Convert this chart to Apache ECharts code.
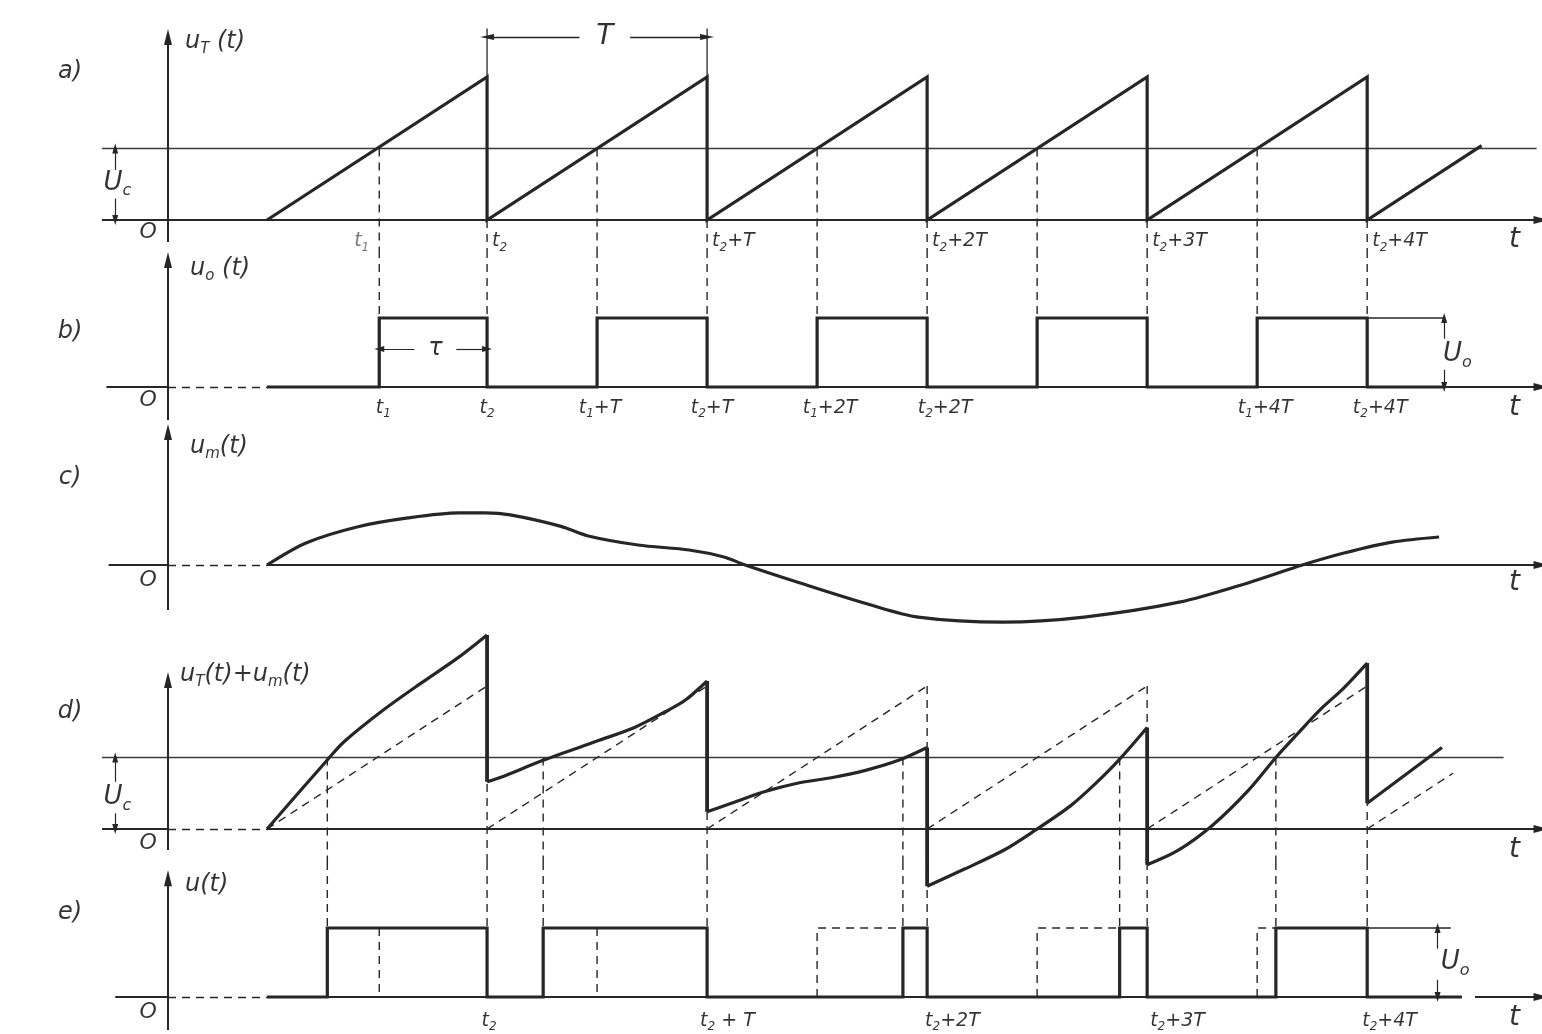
<!DOCTYPE html>
<html><head><meta charset="utf-8"><title>PWM diagram</title>
<script src="https://cdn.jsdelivr.net/npm/echarts@6.0.0/dist/echarts.min.js"></script>
<style>html,body{margin:0;padding:0;background:#fff;}#chart{width:1542px;height:1034px;}</style>
</head><body><div id="chart"></div>
<script>
// ================= DATA (time unit: T = 10) =================
const t1Times = [9.6, 19.5, 29.5, 39.5, 49.5];
const t2Times = [14.5, 24.5, 34.5, 44.5, 54.5];
const UcLevel = 0.5;
const UoLevel = 1;

// a) sawtooth u_T(t)
const sawA = [[4.5,0],[14.5,1],[14.5,0],[24.5,1],[24.5,0],[34.5,1],[34.5,0],[44.5,1],[44.5,0],[54.5,1],[54.5,0],[59.7,0.52]];

// b) u_o(t)
const pulseB = [[4.5,0],[9.6,0],[9.6,1],[14.5,1],[14.5,0],[19.5,0],[19.5,1],[24.5,1],[24.5,0],[29.5,0],[29.5,1],[34.5,1],[34.5,0],[39.5,0],[39.5,1],[44.5,1],[44.5,0],[49.5,0],[49.5,1],[54.5,1],[54.5,0],[58.0,0]];

// c) u_m(t)
const umT = [4.5, 6.27, 8.59, 10.91, 13.23, 14.41, 15.55, 17.86, 19.05, 21.36, 23.68, 25.27, 26.23, 28.73, 31.95, 34.09, 37.95, 41.64, 45.95, 49.18, 51.55, 53.45, 55.64, 57.77];
const umV = [0, 0.154, 0.266, 0.329, 0.364, 0.364, 0.35, 0.27, 0.205, 0.14, 0.105, 0.056, 0, -0.126, -0.28, -0.364, -0.40, -0.364, -0.26, -0.12, 0, 0.084, 0.16, 0.196];

// d) u_T(t)+u_m(t): solid curve pieces between the resets
const sumPieces = [
  [[4.5,0],[7.24,0.483],[8.0,0.61],[9.77,0.83],[11.5,1.02],[13.2,1.2],[14.5,1.357]],
  [[14.5,0.33],[15.1,0.36],[17.05,0.48],[19.6,0.62],[21.2,0.71],[22.6,0.82],[23.5,0.90],[24.5,1.035]],
  [[24.5,0.12],[25.6,0.18],[27.1,0.26],[28.6,0.32],[30.2,0.36],[31.7,0.41],[33.2,0.48],[34.5,0.57]],
  [[34.5,-0.40],[36.2,-0.28],[38.0,-0.147],[39.4,-0.01],[41.0,0.16],[42.1,0.31],[43.2,0.48],[44.5,0.71]],
  [[44.5,-0.25],[45.9,-0.15],[47.5,0.03],[49.1,0.27],[50.35,0.5],[51.3,0.66],[52.4,0.84],[53.4,0.98],[54.5,1.16]],
  [[54.5,0.18],[57.9,0.57]]
];
const sumResets = [[14.5,1.357,0.33],[24.5,1.035,0.12],[34.5,0.57,-0.40],[44.5,0.71,-0.25],[54.5,1.16,0.18]];
const sawD = [[[4.5,0],[14.5,1]],[[14.5,0],[24.5,1]],[[24.5,0],[34.5,1]],[[34.5,0],[44.5,1]],[[44.5,0],[54.5,1]],[[54.5,0],[58.4,0.39]]];
const dCross = [7.24, 17.05, 33.4, 43.25, 50.35];

// e) u(t)
const pulseE = [[4.5,0],[7.24,0],[7.24,1],[14.5,1],[14.5,0],[17.05,0],[17.05,1],[24.5,1],[24.5,0],[33.4,0],[33.4,1],[34.5,1],[34.5,0],[43.25,0],[43.25,1],[44.5,1],[44.5,0],[50.35,0],[50.35,1],[54.5,1],[54.5,0],[58.8,0]];
const refPulsesE = [[[9.6,1],[9.6,0]],[[19.5,1],[19.5,0]],[[29.5,0],[29.5,1],[33.4,1]],[[39.5,0],[39.5,1],[43.25,1]],[[49.5,0],[49.5,1],[50.35,1]]];

// tick labels
const ticksA = [9.6, 14.5, 24.5, 34.5, 44.5, 54.5];
const ticksALabels = ['t{s|1}','t{s|2}','t{s|2}+T','t{s|2}+2T','t{s|2}+3T','t{s|2}+4T'];
const ticksB = [9.6, 14.5, 19.5, 24.5, 29.5, 34.5, 49.5, 54.5];
const ticksBLabels = ['t{s|1}','t{s|2}','t{s|1}+T','t{s|2}+T','t{s|1}+2T','t{s|2}+2T','t{s|1}+4T','t{s|2}+4T'];
const ticksE = [14.5, 24.5, 34.5, 44.5, 54.5];
const ticksELabels = ['t{s|2}','t{s|2} + T','t{s|2}+2T','t{s|2}+3T','t{s|2}+4T'];
const axisNames = ['u{s|T} (t)','u{s|o} (t)','u{s|m}(t)','u{s|T}(t)+u{s|m}(t)','u(t)'];
const panelLetters = ['a)','b)','c)','d)','e)'];

// ================= LAYOUT / STYLE =================
const FONT = '"DejaVu Sans", "Liberation Sans", sans-serif';
const INK = '#262626';
const TXT = '#000000';
const W_SIG = 3.2, W_AX = 2, W_THIN = 1.4, DASH = [8,6];
const X_MIN = -7.5, X_MAX = 62.4;
const layout = [
  {top:20,  bottom:250,  base:220, unit:143, yAx:[-0.154,1.28], letterY:1.035, nameX:0.77, nameY:1.245, zeroY:-0.084, tY:-0.14},
  {top:250, bottom:425,  base:387, unit:69,  yAx:[-0.478,1.84], letterY:0.80,  nameX:1.0,  nameY:1.72,  zeroY:-0.19,  tY:-0.30},
  {top:425, bottom:640,  base:565, unit:143, yAx:[-0.315,0.93], letterY:0.61,  nameX:1.0,  nameY:0.825, zeroY:-0.105, tY:-0.126},
  {top:640, bottom:862,  base:829, unit:143, yAx:[-0.147,1.042],letterY:0.82,  nameX:0.55, nameY:1.077, zeroY:-0.098, tY:-0.147},
  {top:862, bottom:1034, base:997, unit:69,  yAx:[-0.478,1.72], letterY:1.22,  nameX:0.77, nameY:1.62,  zeroY:-0.22,  tY:-0.30}
];

const grids = [], xAxes = [], yAxes = [], series = [];
layout.forEach((L, i) => {
  grids.push({left:3, right:1, top:L.top, height:L.bottom - L.top});
  xAxes.push({type:'value', gridIndex:i, min:X_MIN, max:X_MAX, show:false});
  yAxes.push({type:'value', gridIndex:i, min:-(L.bottom - L.base)/L.unit, max:(L.base - L.top)/L.unit, show:false});
});
const yMin = i => yAxes[i].min, yMax = i => yAxes[i].max;

function poly(gi, pts, o = {}) {
  series.push({type:'line', xAxisIndex:gi, yAxisIndex:gi, data:pts, symbol:'none', showSymbol:false,
    smooth:o.smooth || false, clip:false, silent:true, animation:false, z:o.z || 3,
    lineStyle:{color:o.color || INK, width:o.width || W_SIG, type:o.dash ? DASH : 'solid', cap:'butt', join:'miter'}});
}
function arrows(gi, items) {
  series.push({type:'line', xAxisIndex:gi, yAxisIndex:gi, data:[], silent:true, animation:false, z:4,
    markLine:{silent:true, animation:false, symbol:['none','none'], label:{show:false}, emphasis:{disabled:true},
      data:items.map(it => [
        {coord:it.from, symbol:it.s0 || 'none', symbolSize:it.size || [8,15],
         lineStyle:{color:INK, width:it.width || W_AX, type:it.dash ? DASH : 'solid', cap:'butt'}},
        {coord:it.to, symbol:it.s1 || 'none', symbolSize:it.size || [8,15]}
      ])}});
}
function rich(size, color) {
  const s = Math.round(size * 0.62);
  return {s:{fontSize:s, fontFamily:FONT, fontStyle:'italic', color:color, verticalAlign:'bottom', lineHeight:s,
    textBorderWidth:0}};
}
function txt(gi, items) {
  series.push({type:'scatter', xAxisIndex:gi, yAxisIndex:gi, symbolSize:1, itemStyle:{color:'rgba(0,0,0,0)'},
    silent:true, animation:false, clip:false, z:6,
    data:items.map(it => {
      const size = it.size || 19;
      const color = it.color || TXT;
      return {value:[it.x, it.y], label:{show:true, position:'inside', formatter:it.text, align:it.align || 'center',
        verticalAlign:'middle', offset:[it.dx || 0, 0], fontFamily:FONT, fontStyle:'italic', fontSize:size,
        lineHeight:Math.round(size * 1.25), color:color, textBorderWidth:0, textBorderColor:'transparent',
        rich:rich(size, color)}};
    })});
}
const TRI = 'triangle';

// common decorations for every panel: y axis, letter, name, zero mark, "t"
layout.forEach((L, i) => {
  arrows(i, [{from:[0, L.yAx[0]], to:[0, L.yAx[1]], s1:TRI, width:W_AX, size:[8,16]}]);
  txt(i, [
    {x:-4.45, y:L.letterY, text:panelLetters[i], size:24},
    {x:L.nameX, y:L.nameY, text:axisNames[i], size:24, align:'left'},
    {x:-0.9, y:L.zeroY, text:'O', size:22},
    {x:61.2, y:L.tY, text:'t', size:28}
  ]);
});

// ---------- a) ----------
arrows(0, [
  {from:[-3,0], to:[X_MAX,0], s1:TRI, width:W_THIN + 0.4},
  {from:[-2.4,0.35], to:[-2.4,UcLevel], s1:TRI, width:1.2, size:[6,10]},
  {from:[-2.4,0.15], to:[-2.4,0], s1:TRI, width:1.2, size:[6,10]},
  {from:[18.7,1.28], to:[t2Times[0],1.28], s1:TRI, width:1.3, size:[6,14]},
  {from:[21.0,1.28], to:[t2Times[1],1.28], s1:TRI, width:1.3, size:[6,14]}
]);
poly(0, [[-3,UcLevel],[62.2,UcLevel]], {width:W_THIN, color:'#3a3a3a'});
poly(0, [[t2Times[0],1],[t2Times[0],1.34]], {width:1.3});
poly(0, [[t2Times[1],1],[t2Times[1],1.34]], {width:1.3});
poly(0, sawA, {});
t1Times.forEach(t => poly(0, [[t,UcLevel],[t,yMin(0)]], {dash:true, width:W_THIN}));
t2Times.forEach(t => poly(0, [[t,0],[t,yMin(0)]], {dash:true, width:W_THIN}));
txt(0, [
  {x:-2.3, y:0.26, text:'U{s|c}', size:26},
  {x:19.85, y:1.28, text:'T', size:28}
].concat(ticksA.map((t, k) => ({x:t, y:-0.15, text:ticksALabels[k], size:19,
  align:k === 0 ? 'right' : 'left', dx:k === 0 ? -10 : 5, color:k === 0 ? '#555' : TXT}))));

// ---------- b) ----------
arrows(1, [
  {from:[-2.8,0], to:[0,0], width:W_THIN + 0.4},
  {from:[0,0], to:[4.5,0], width:W_THIN, dash:true},
  {from:[4.5,0], to:[X_MAX,0], s1:TRI, width:W_THIN + 0.4},
  {from:[58.0,0.7], to:[58.0,UoLevel], s1:TRI, width:1.2, size:[6,10]},
  {from:[58.0,0.25], to:[58.0,0], s1:TRI, width:1.2, size:[6,10]},
  {from:[11.2,0.55], to:[t1Times[0],0.55], s1:TRI, width:1.2, size:[6,10]},
  {from:[13.1,0.55], to:[t2Times[0],0.55], s1:TRI, width:1.2, size:[6,10]}
]);
poly(1, [[t2Times[4],UoLevel],[58.0,UoLevel]], {width:W_THIN});
poly(1, pulseB, {});
t1Times.concat(t2Times).forEach(t => poly(1, [[t,yMax(1)],[t,UoLevel]], {dash:true, width:W_THIN}));
const dxB = [4,0,3,5,13,18,8,13];
txt(1, [
  {x:58.6, y:0.48, text:'U{s|o}', size:26},
  {x:12.15, y:0.55, text:'τ', size:24}
].concat(ticksB.map((t, k) => ({x:t, y:-0.30, text:ticksBLabels[k], size:19, dx:dxB[k]}))));

// ---------- c) ----------
arrows(2, [
  {from:[-2.7,0], to:[0,0], width:W_THIN + 0.4},
  {from:[0,0], to:[4.5,0], width:W_THIN, dash:true},
  {from:[4.5,0], to:[X_MAX,0], s1:TRI, width:W_THIN + 0.4}
]);
poly(2, umT.map((t, k) => [t, umV[k]]), {smooth:0.3});

// ---------- d) ----------
arrows(3, [
  {from:[-3,0], to:[0,0], width:W_THIN + 0.4},
  {from:[0,0], to:[4.5,0], width:W_THIN, dash:true},
  {from:[4.5,0], to:[X_MAX,0], s1:TRI, width:W_THIN + 0.4},
  {from:[-2.4,0.33], to:[-2.4,UcLevel], s1:TRI, width:1.2, size:[6,10]},
  {from:[-2.4,0.11], to:[-2.4,0], s1:TRI, width:1.2, size:[6,10]}
]);
poly(3, [[-3,UcLevel],[60.7,UcLevel]], {width:W_THIN, color:'#3a3a3a'});
sawD.forEach(p => poly(3, p, {dash:true, width:W_THIN}));
dCross.forEach(t => poly(3, [[t,UcLevel],[t,yMin(3)]], {dash:true, width:W_THIN}));
t2Times.forEach(t => poly(3, [[t,1],[t,yMin(3)]], {dash:true, width:W_THIN}));
sumPieces.forEach(p => poly(3, p, {smooth:p.length > 2 ? 0.3 : false}));
sumResets.forEach(r => poly(3, [[r[0],r[1]],[r[0],r[2]]], {width:W_SIG + 0.6}));
txt(3, [{x:-2.3, y:0.22, text:'U{s|c}', size:26}]);

// ---------- e) ----------
arrows(4, [
  {from:[-2.4,0], to:[0,0], width:W_THIN + 0.4},
  {from:[0,0], to:[4.5,0], width:W_THIN, dash:true},
  {from:[4.5,0], to:[58.8,0], width:W_THIN + 0.4},
  {from:[59.4,0], to:[X_MAX,0], s1:TRI, width:W_THIN + 0.4},
  {from:[57.7,0.7], to:[57.7,UoLevel], s1:TRI, width:1.2, size:[6,10]},
  {from:[57.7,0.25], to:[57.7,0], s1:TRI, width:1.2, size:[6,10]}
]);
poly(4, [[t2Times[4],UoLevel],[58.3,UoLevel]], {width:W_THIN});
refPulsesE.forEach(p => poly(4, p, {dash:true, width:W_THIN}));
dCross.concat(t2Times).forEach(t => poly(4, [[t,yMax(4)],[t,UoLevel]], {dash:true, width:W_THIN}));
poly(4, pulseE, {});
const alignE = ['center','left','left','left','left'];
const dxE = [2,-7,-2,3,-5];
txt(4, [{x:58.5, y:0.5, text:'U{s|o}', size:26}].concat(
  ticksE.map((t, k) => ({x:t, y:-0.35, text:ticksELabels[k], size:19, align:alignE[k], dx:dxE[k]}))));

const chart = echarts.init(document.getElementById('chart'), null, {renderer:'canvas'});
chart.setOption({backgroundColor:'#ffffff', animation:false, grid:grids, xAxis:xAxes, yAxis:yAxes, series:series});
</script></body></html>
